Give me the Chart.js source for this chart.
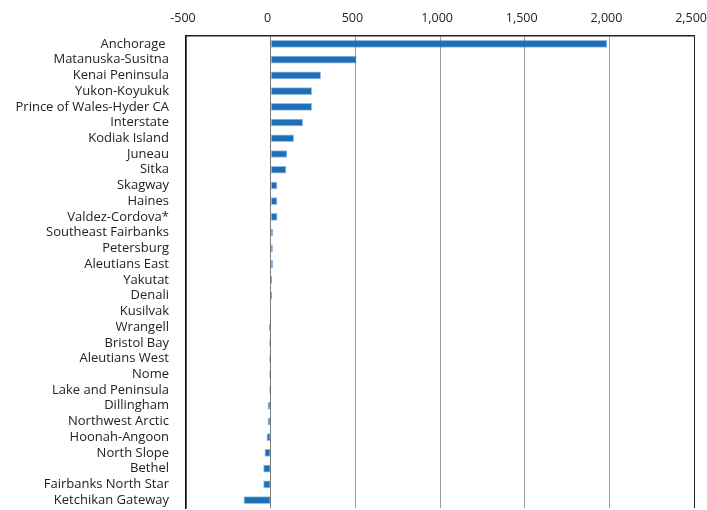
<!DOCTYPE html>
<html>
<head>
<meta charset="utf-8">
<script src="https://cdn.jsdelivr.net/npm/chart.js@4.4.1/dist/chart.umd.min.js"></script>
<style>
  html, body { margin: 0; padding: 0; background: #fff; }
  #wrap { width: 707px; height: 510px; position: relative; }
</style>
</head>
<body>
<div id="wrap"><canvas id="c" width="707" height="510"></canvas></div>
<script>
const categories = [
  "Anchorage ", "Matanuska-Susitna", "Kenai Peninsula", "Yukon-Koyukuk",
  "Prince of Wales-Hyder CA", "Interstate", "Kodiak Island", "Juneau", "Sitka",
  "Skagway", "Haines", "Valdez-Cordova*", "Southeast Fairbanks", "Petersburg",
  "Aleutians East", "Yakutat", "Denali", "Kusilvak", "Wrangell", "Bristol Bay",
  "Aleutians West", "Nome", "Lake and Peninsula", "Dillingham", "Northwest Arctic",
  "Hoonah-Angoon", "North Slope", "Bethel", "Fairbanks North Star", "Ketchikan Gateway"
];
const values = [
  1985, 505, 295, 242,
  242, 189, 136, 96, 90,
  37, 37, 38, 12, 11,
  12, 5, 5, 0, -7, -6,
  -6, -6, -6, -16, -16,
  -22, -34, -42, -42, -158
];
const xTicks = { min: -500, max: 2500, step: 500 };

const ctx = document.getElementById('c').getContext('2d');
new Chart(ctx, {
  type: 'bar',
  data: {
    labels: categories,
    datasets: [{
      data: values,
      backgroundColor: '#1f6fb8',
      borderColor: 'rgba(31,111,184,0.45)',
      borderWidth: 1,
      borderSkipped: false,
      barThickness: 7
    }]
  },
  options: {
    indexAxis: 'y',
    responsive: false,
    animation: false,
    devicePixelRatio: 1,
    layout: { padding: { left: 0, right: 0, top: 0, bottom: 2 } },
    plugins: { legend: { display: false }, tooltip: { enabled: false } },
    scales: {
      x: {
        position: 'top',
        min: xTicks.min, max: xTicks.max,
        ticks: {
          stepSize: xTicks.step,
          color: '#222',
          padding: -3,
          labelOffset: -3,
          font: { family: '"Open Sans"', size: 12.5 },
          callback: v => v.toLocaleString('en-US')
        },
        grid: {
          drawTicks: true,
          tickLength: 13,
          tickColor: 'rgba(0,0,0,0)',
          lineWidth: 1,
          color: c => (c.tick && c.tick.value === xTicks.max) ? '#222' : (c.tick && c.tick.value === 0 ? '#7a7a7a' : '#9a9a9a')
        },
        border: { display: true, color: '#222', width: 1.5 },
        afterFit: s => { s.height = 36; }
      },
      y: {
        ticks: {
          color: '#222',
          padding: -8,
          autoSkip: false,
          font: { family: '"Open Sans"', size: 13 }
        },
        grid: {
          display: true,
          drawTicks: true,
          tickLength: 25,
          color: 'rgba(0,0,0,0)',
          tickColor: 'rgba(0,0,0,0)'
        },
        border: { display: true, color: '#111', width: 1.5 },
        afterFit: s => { s.width = 186; }
      }
    }
  }
});
</script>
</body>
</html>
